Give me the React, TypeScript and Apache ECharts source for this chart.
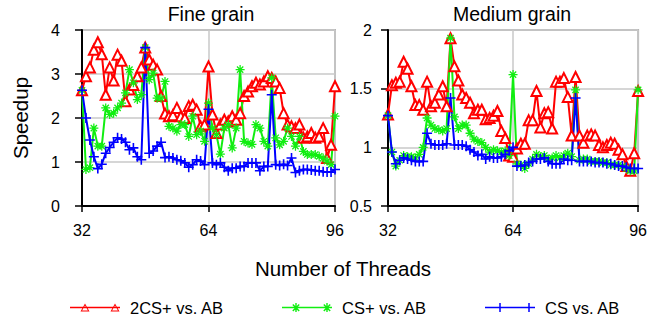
import React, { useEffect, useRef } from 'react';
import * as echarts from 'echarts';

const threads = [
  32, 33, 34, 35, 36, 37, 38, 39, 40, 41, 42, 43, 44, 45, 46, 47, 48, 49, 50, 51,
  52, 53, 54, 55, 56, 57, 58, 59, 60, 61, 62, 63, 64, 65, 66, 67, 68, 69, 70, 71,
  72, 73, 74, 75, 76, 77, 78, 79, 80, 81, 82, 83, 84, 85, 86, 87, 88, 89, 90, 91,
  92, 93, 94, 95, 96,
];

const seriesNames = ['2CS+ vs. AB', 'CS+ vs. AB', 'CS vs. AB'];
const xTicks = [32, 64, 96];

// Fine grain
const fine2CSplus = [
  2.63, 2.95, 3.15, 3.55, 3.72, 3.45, 2.53, 3.15, 2.85, 3.44,
  3.30, 2.38, 2.65, 2.75, 2.95, 3.15, 3.60, 3.33, 3.21, 3.10,
  2.50, 2.10, 2.04, 2.06, 2.23, 2.04, 2.00, 2.27, 2.30, 2.19,
  1.81, 1.85, 3.17, 2.08, 1.66, 1.85, 1.96, 1.92, 2.04, 1.96,
  2.11, 2.50, 2.60, 2.72, 2.80, 2.76, 2.83, 2.95, 2.91, 2.83,
  2.68, 2.11, 1.85, 1.81, 1.77, 1.85, 1.55, 1.58, 1.66, 1.55,
  1.58, 1.77, 1.09, 1.39, 2.72,
];
const fineCSplus = [
  2.63, 0.83, 0.87, 1.77, 1.36, 1.36, 2.23, 2.08, 2.11, 2.23,
  2.34, 2.57, 3.10, 2.80, 2.42, 2.53, 3.60, 2.87, 3.02, 2.45,
  2.45, 2.83, 1.81, 1.77, 1.70, 1.85, 1.85, 1.58, 2.04, 1.62,
  1.70, 1.47, 2.34, 1.77, 1.62, 1.18, 1.77, 1.85, 1.32, 1.77,
  3.10, 1.47, 1.43, 1.40, 1.85, 1.77, 1.47, 1.36, 2.91, 1.55,
  1.39, 1.47, 1.77, 1.58, 1.36, 1.58, 1.24, 1.17, 1.17, 1.17,
  1.13, 1.09, 1.02, 0.94, 2.04,
];
const fineCS = [
  2.63, 2.00, 1.50, 1.12, 0.85, 0.95, 1.20, 1.33, 1.45, 1.55,
  1.52, 1.45, 1.28, 1.32, 1.12, 1.05, 3.60, 1.20, 1.25, 1.36,
  1.45, 1.10, 1.12, 1.09, 1.05, 1.03, 0.98, 0.88, 0.94, 1.05,
  1.02, 0.94, 2.20, 0.98, 0.94, 0.98, 0.88, 0.80, 0.86, 0.86,
  0.90, 0.90, 0.98, 0.98, 0.98, 0.80, 0.90, 0.90, 2.53, 0.94,
  0.92, 0.95, 0.92, 1.09, 0.76, 0.80, 0.83, 0.83, 0.82, 0.80,
  0.80, 0.78, 0.77, 0.77, 0.83,
];

// Medium grain
const med2CSplus = [
  1.28, 1.53, 1.55, 1.56, 1.73, 1.67, 1.52, 1.36, 1.36, 1.32,
  1.56, 1.35, 1.38, 1.45, 1.52, 1.35, 1.93, 1.69, 1.57, 1.45,
  1.42, 1.38, 1.29, 1.32, 1.32, 1.24, 1.25, 1.27, 1.31, 1.14,
  1.08, 0.93, 0.92, 0.99, 1.03, 1.03, 1.23, 1.23, 1.48, 1.17,
  1.29, 1.30, 1.16, 1.56, 1.56, 1.59, 1.43, 1.10, 1.60, 1.10,
  1.04, 1.10, 1.11, 1.10, 1.02, 1.00, 1.02, 1.04, 1.03, 0.98,
  0.94, 0.84, 0.80, 0.95, 1.48,
];
const medCSplus = [
  1.27, 0.96, 0.84, 0.89, 0.93, 0.92, 0.92, 0.91, 0.94, 1.00,
  1.25, 1.19, 1.16, 1.15, 1.14, 1.16, 1.93, 1.26, 1.16, 1.19,
  1.19, 1.12, 1.07, 1.05, 1.04, 1.00, 0.96, 0.98, 0.97, 0.96,
  0.97, 0.93, 1.62, 0.86, 0.85, 0.82, 0.86, 0.90, 0.94, 0.92,
  0.93, 0.90, 0.91, 0.93, 0.91, 0.93, 0.95, 0.92, 1.49, 0.89,
  0.90, 0.90, 0.88, 0.88, 0.88, 0.87, 0.87, 0.85, 0.85, 0.85,
  0.84, 0.82, 0.80, 0.80, 1.49,
];
const medCS = [
  1.27, 0.96, 0.86, 0.89, 0.91, 0.90, 0.89, 0.88, 0.88, 0.88,
  1.12, 1.03, 1.02, 1.02, 1.02, 1.03, 1.42, 1.02, 1.02, 1.02,
  1.01, 0.98, 0.96, 0.93, 0.94, 0.90, 0.92, 0.91, 0.91, 0.92,
  0.94, 0.97, 1.00, 0.84, 0.84, 0.85, 0.87, 0.88, 0.90, 0.90,
  0.91, 0.88, 0.86, 0.86, 0.86, 0.90, 0.89, 0.89, 1.42, 0.88,
  0.88, 0.88, 0.88, 0.87, 0.87, 0.87, 0.86, 0.86, 0.85, 0.84,
  0.84, 0.83, 0.82, 0.82, 0.82,
];

const FONT = '"Liberation Sans", Arial, Helvetica, sans-serif';
const RED = '#ff0000';
const GREEN = '#11ee11';
const BLUE = '#0000ff';

const PLUS = 'path://M4.2,0H5.8V10H4.2ZM0,4.2H10V5.8H0Z';
const ASTER =
  'path://M0,4.3H10V5.7H0ZM4.3,0H5.7V10H4.3ZM2,1L9,8L8,9L1,2ZM8,1L9,2L2,9L1,8Z';

function asteriskAt(cx: number) {
  const a = cx - 4.5;
  const f = (x: number) => (a + x).toFixed(2);
  return (
    `M${f(0)},4.3H${f(9)}V5.7H${f(0)}Z` +
    `M${f(3.8)},0.5H${f(5.2)}V9.5H${f(3.8)}Z` +
    `M${f(1.8)},1.5L${f(8.2)},7.9L${f(7.2)},8.9L${f(0.8)},2.5Z` +
    `M${f(7.2)},1.5L${f(8.2)},2.5L${f(1.8)},8.9L${f(0.8)},7.9Z`
  );
}
function triangleAt(cx: number) {
  const f = (x: number) => (cx + x).toFixed(2);
  return (
    `M${f(0)},1L${f(4.5)},9L${f(-4.5)},9Z` +
    `M${f(0)},3L${f(-2.9)},8.1L${f(2.9)},8.1Z`
  );
}
const LINE = 'M0,4.25H50V5.75H0Z';
const iconRed = 'path://' + LINE + triangleAt(15) + triangleAt(45);
const iconGreen = 'path://' + LINE + asteriskAt(14) + asteriskAt(45);
const iconBlue =
  'path://' + LINE + 'M14.25,0.5H15.75V9.5H14.25Z' + 'M43.25,0.5H44.75V9.5H43.25Z';

const pairs = (vals: number[]) => threads.map((t, i) => [t, vals[i]]);

export default function App() {
  const ref = useRef<HTMLDivElement>(null);
  useEffect(() => {
    const chart = echarts.init(ref.current!, undefined, { renderer: 'svg' });

    const xAxis = (gridIndex: number) => ({
      type: 'value',
      gridIndex,
      min: xTicks[0],
      max: xTicks[2],
      interval: xTicks[1] - xTicks[0],
      axisLine: { show: true, onZero: false, lineStyle: { color: '#000', width: 2 } },
      axisTick: { show: true, length: 6, lineStyle: { color: '#000', width: 1.5 } },
      axisLabel: { color: '#000', fontSize: 16, fontFamily: FONT, margin: 16 },
      splitLine: { show: true, lineStyle: { color: '#c8c8c8', width: 1.5 } },
    });
    const yAxis = (gridIndex: number, min: number, max: number, interval: number, margin: number) => ({
      type: 'value',
      gridIndex,
      min,
      max,
      interval,
      axisLine: { show: true, onZero: false, lineStyle: { color: '#000', width: 2 } },
      axisTick: { show: true, length: 7, lineStyle: { color: '#000', width: 1.5 } },
      axisLabel: { color: '#000', fontSize: 16, fontFamily: FONT, margin },
      splitLine: { show: true, lineStyle: { color: '#c8c8c8', width: 1.5 } },
    });

    const mk = (name: string, vals: number[], idx: number) => {
      const base: any = {
        type: 'line',
        name,
        xAxisIndex: idx,
        yAxisIndex: idx,
        data: pairs(vals),
        showAllSymbol: true,
        z: 2,
      };
      if (name === seriesNames[0]) {
        return {
          ...base,
          symbol: 'emptyTriangle',
          symbolSize: 10,
          lineStyle: { color: RED, width: 2 },
          itemStyle: { color: RED, borderWidth: 1.3 },
        };
      }
      if (name === seriesNames[1]) {
        return {
          ...base,
          symbol: ASTER,
          symbolSize: 9,
          lineStyle: { color: GREEN, width: 2 },
          itemStyle: { color: GREEN, borderWidth: 0 },
        };
      }
      return {
        ...base,
        symbol: PLUS,
        symbolSize: 10,
        lineStyle: { color: BLUE, width: 2 },
        itemStyle: { color: BLUE, borderWidth: 0 },
      };
    };

    const legendCommon = {
      top: 299,
      itemWidth: 50,
      itemHeight: 10,
      padding: 0,
      selectedMode: false,
      textStyle: { color: '#000', fontSize: 16.5, fontFamily: FONT, padding: [0, 0, 0, 5] },
    };

    const option: any = {
      animation: false,
      backgroundColor: '#fff',
      grid: [
        { left: 82, top: 30, width: 253, height: 176, show: true, borderColor: '#b4b4b4', borderWidth: 2 },
        { left: 388, top: 30, width: 252, height: 176, show: true, borderColor: '#b4b4b4', borderWidth: 2 },
      ],
      xAxis: [xAxis(0), xAxis(1)],
      yAxis: [yAxis(0, 0, 4, 1, 22), yAxis(1, 0.5, 2, 0.5, 16)],
      legend: [
        { ...legendCommon, left: 70, data: [{ name: seriesNames[0], icon: iconRed, itemStyle: { color: RED, borderWidth: 0 } }] },
        { ...legendCommon, left: 282, data: [{ name: seriesNames[1], icon: iconGreen, itemStyle: { color: GREEN, borderWidth: 0 } }] },
        { ...legendCommon, left: 485, data: [{ name: seriesNames[2], icon: iconBlue, itemStyle: { color: BLUE, borderWidth: 0 } }] },
      ],
      series: [
        mk(seriesNames[0], fine2CSplus, 0),
        mk(seriesNames[1], fineCSplus, 0),
        mk(seriesNames[2], fineCS, 0),
        mk(seriesNames[0], med2CSplus, 1),
        mk(seriesNames[1], medCSplus, 1),
        mk(seriesNames[2], medCS, 1),
      ],
      graphic: [
        { type: 'text', x: 211, y: 14, style: { text: 'Fine grain', font: `19.5px ${FONT}`, fill: '#000', textAlign: 'center', textVerticalAlign: 'middle' } },
        { type: 'text', x: 512, y: 14, style: { text: 'Medium grain', font: `19.5px ${FONT}`, fill: '#000', textAlign: 'center', textVerticalAlign: 'middle' } },
        { type: 'text', x: 343, y: 268, style: { text: 'Number of Threads', font: `20.5px ${FONT}`, fill: '#000', textAlign: 'center', textVerticalAlign: 'middle' } },
        { type: 'text', x: 20, y: 118, rotation: Math.PI / 2, style: { text: 'Speedup', font: `20.5px ${FONT}`, fill: '#000', textAlign: 'center', textVerticalAlign: 'middle' } },
      ],
    };
    chart.setOption(option);
    return () => chart.dispose();
  }, []);
  return <div ref={ref} style={{ position: 'fixed', left: 0, top: 0, width: 650, height: 322 }} />;
}
